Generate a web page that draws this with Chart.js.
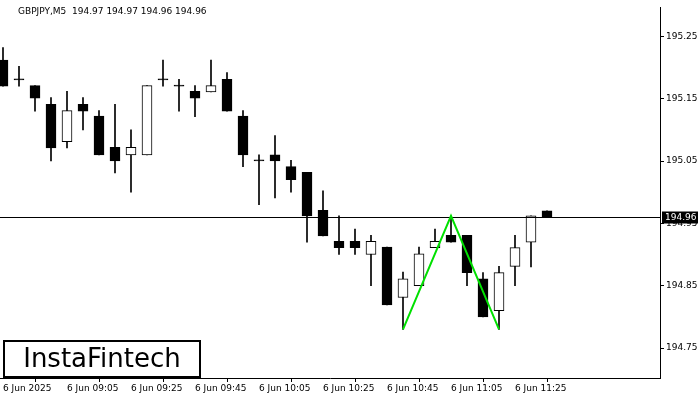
<!DOCTYPE html>
<html><head><meta charset="utf-8">
<script src="https://cdn.jsdelivr.net/npm/chart.js@4"></script>
<style>html,body{margin:0;padding:0;background:#fff}#w{width:700px;height:400px}</style>
</head><body><div id="w"><canvas id="c" width="700" height="400"></canvas></div>
<script>
const opens  = [195.212,195.181,195.171,195.141,195.081,195.141,195.122,195.072,195.060,195.060,195.181,195.171,195.162,195.161,195.181,195.122,195.051,195.060,195.041,195.032,194.971,194.921,194.921,194.900,194.912,194.831,194.850,194.911,194.931,194.931,194.861,194.810,194.881,194.920,194.970];
const highs  = [195.232,195.202,195.171,195.152,195.162,195.152,195.131,195.141,195.100,195.171,195.212,195.181,195.171,195.212,195.192,195.131,195.060,195.091,195.051,195.032,195.002,194.962,194.941,194.931,194.912,194.872,194.912,194.941,194.962,194.931,194.871,194.881,194.931,194.962,194.970];
const lows   = [195.170,195.170,195.130,195.050,195.071,195.100,195.060,195.031,195.000,195.060,195.170,195.130,195.121,195.161,195.130,195.041,194.980,194.991,195.000,194.920,194.930,194.900,194.900,194.850,194.819,194.780,194.850,194.911,194.920,194.850,194.800,194.780,194.850,194.880,194.960];
const closes = [195.170,195.181,195.151,195.071,195.131,195.130,195.060,195.050,195.072,195.171,195.181,195.171,195.151,195.171,195.130,195.060,195.051,195.050,195.020,194.962,194.930,194.911,194.911,194.921,194.819,194.861,194.901,194.921,194.920,194.871,194.800,194.871,194.911,194.962,194.960];
const timeLabels = ["6 Jun 2025","6 Jun 09:05","6 Jun 09:25","6 Jun 09:45","6 Jun 10:05","6 Jun 10:25","6 Jun 10:45","6 Jun 11:05","6 Jun 11:25"];
const priceTicks = [194.75,194.85,194.95,195.05,195.15,195.25];
const patternX = [25,28,31];
const patternY = [194.780,194.962,194.780];
const lastPrice = 194.96;

const idx = opens.map((_,i)=>i);
const wicks = idx.map(i=>({x:i,y:[lows[i],highs[i]]}));
const bodies = idx.map(i=>{
  let a=opens[i],b=closes[i];
  if(Math.abs(a-b)<0.002){const m=(a+b)/2;a=m-0.0008;b=m+0.0008;}
  return {x:i,y:[Math.min(a,b),Math.max(a,b)]};
});
const bodyFill = idx.map(i=> closes[i]>opens[i]+0.002 ? '#fff' : '#000');

const overlay = {
  id:'overlay',
  afterDraw(ch){
    const c=ch.ctx, xs=ch.scales.x, ys=ch.scales.y, a=ch.chartArea;
    c.save();
    const yp=Math.round(ys.getPixelForValue(lastPrice))+0.5;
    c.strokeStyle='#000';c.lineWidth=1;
    c.beginPath();c.moveTo(0,yp);c.lineTo(a.right,yp);c.stroke();
    c.fillStyle='#000';c.fillRect(a.right+2,yp-6,36,12);
    c.fillStyle='#fff';c.font='9px "DejaVu Sans"';c.textBaseline='middle';c.textAlign='left';
    c.fillText(lastPrice.toFixed(2),a.right+5,yp);
    c.strokeStyle='#00e000';c.lineWidth=2;c.beginPath();
    patternX.forEach((v,i)=>{const px=xs.getPixelForValue(v),py=ys.getPixelForValue(patternY[i]);i?c.lineTo(px,py):c.moveTo(px,py);});
    c.stroke();
    c.fillStyle='#000';c.font='9px "DejaVu Sans"';c.textBaseline='middle';
    c.fillText('GBPJPY,M5  194.97 194.97 194.96 194.96',18,12);
    c.fillStyle='#fff';c.fillRect(3,340,198,38);
    c.strokeStyle='#000';c.lineWidth=2;c.strokeRect(4,341,196,36);
    c.fillStyle='#000';c.font='26px "DejaVu Sans"';c.textAlign='center';
    c.fillText('InstaFintech',102,360);
    c.restore();
  }
};

new Chart(document.getElementById('c'),{
  type:'bar',
  data:{datasets:[
    {data:wicks,backgroundColor:'#000',barThickness:1,grouped:false,order:2},
    {data:bodies,backgroundColor:bodyFill,borderColor:'#000',borderWidth:1,borderSkipped:false,barThickness:10,grouped:false,order:1}
  ]},
  options:{
    responsive:false,animation:false,
    layout:{padding:0},
    plugins:{legend:{display:false},tooltip:{enabled:false}},
    scales:{
      x:{type:'linear',min:-0.1875,max:41.0625,offset:false,
        grid:{display:true,drawOnChartArea:false,drawTicks:true,tickLength:4,color:'#000'},
        border:{display:true,color:'#000'},
        afterBuildTicks:s=>{s.ticks=timeLabels.map((_,i)=>({value:i*4}));},
        afterFit:s=>{s.height=22;},
        ticks:{align:'start',maxRotation:0,autoSkip:false,padding:1,color:'#000',font:{size:9,family:'DejaVu Sans'},
          callback:(v)=>timeLabels[Math.round(v/4)]}},
      y:{position:'right',min:194.7019,max:195.2965,
        grid:{display:true,drawOnChartArea:false,drawTicks:true,tickLength:4,color:'#000'},
        border:{display:true,color:'#000'},
        afterBuildTicks:s=>{s.ticks=priceTicks.map(v=>({value:v}));},
        afterFit:s=>{s.width=40;},
        ticks:{padding:2,color:'#000',font:{size:9,family:'DejaVu Sans'},callback:v=>v.toFixed(2)}}
    }
  },
  plugins:[overlay]
});
</script></body></html>
